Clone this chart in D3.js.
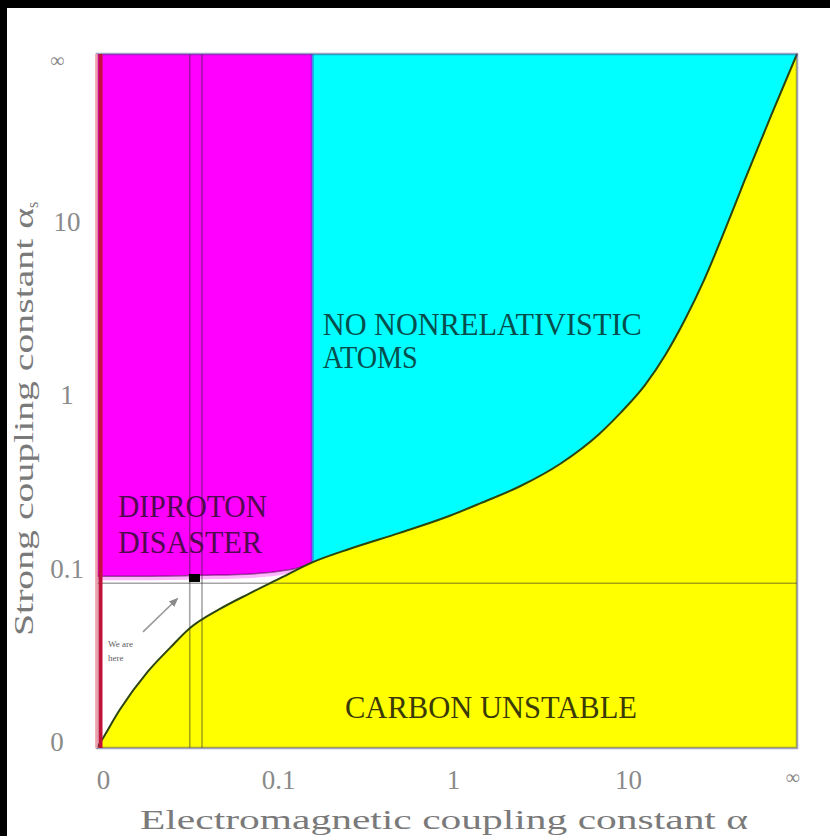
<!DOCTYPE html>
<html>
<head>
<meta charset="utf-8">
<script src="https://cdn.jsdelivr.net/npm/d3@7"></script>
<style>
  html, body { margin: 0; padding: 0; background: #fff; }
  svg { display: block; }
</style>
</head>
<body>
<svg id="chart" width="830" height="836"></svg>
<script>
// Both axes are compactified: tick k sits at position k (0, 0.1, 1, 10, ∞).
const xTickLabels = ["0", "0.1", "1", "10", "∞"];
const yTickLabels = ["0", "0.1", "1", "10", "∞"];

// Carbon-stability boundary (strong coupling vs electromagnetic coupling).
const carbonX = [0, 0.03, 0.13, 0.29, 0.42, 0.53, 0.70, 0.87, 1.05, 1.23, 1.45, 1.73,
                 2.02, 2.19, 2.42, 2.65, 2.87, 2.99, 3.13, 3.25, 3.36, 3.47, 3.59, 3.70, 3.85, 4];
const carbonY = [0, 0.05, 0.22, 0.44, 0.58, 0.69, 0.80, 0.89, 0.98, 1.07, 1.15, 1.24,
                 1.34, 1.41, 1.51, 1.64, 1.81, 1.93, 2.09, 2.27, 2.47, 2.70, 2.99, 3.27, 3.64, 4];

// Lower edge of the diproton-disaster region.
const diprotonX = [0, 0.30, 0.60, 0.90, 1.05, 1.17, 1.23];
const diprotonY = [0.99, 0.99, 0.995, 1.005, 1.02, 1.045, 1.07];

// Left edge of the "no nonrelativistic atoms" region.
const atomsEdgeX = [1.23];

// Our universe: guide lines and marker.
const ourAlphaBand = [0.53, 0.60];
const ourAlphaS = [0.95];
const hereX = [0.557];
const hereY = [0.98];

const svg = d3.select("#chart");
const x = d3.scaleLinear().domain([0, 4]).range([97, 797]);
const y = d3.scaleLinear().domain([0, 4]).range([748, 54]);

const carbon = carbonX.map((v, i) => [v, carbonY[i]]);
const diproton = diprotonX.map((v, i) => [v, diprotonY[i]]);

// Frame strips along the top and left edges.
svg.append("rect").attr("x", 0).attr("y", 0).attr("width", 830).attr("height", 8).attr("fill", "#000");
svg.append("rect").attr("x", 0).attr("y", 0).attr("width", 7).attr("height", 836).attr("fill", "#000");

const plot = svg.append("g");

// Diproton disaster (magenta).
plot.append("path")
  .datum(diproton)
  .attr("fill", "#ff00ff")
  .attr("d", d3.area().x(d => x(d[0])).y0(y(4)).y1(d => y(d[1])).curve(d3.curveMonotoneX));
// soft pink fringe under the magenta edge
plot.append("path")
  .datum(diproton)
  .attr("fill", "none")
  .attr("stroke", "#ffb8ff")
  .attr("stroke-width", 4)
  .attr("transform", "translate(0,2)")
  .attr("d", d3.line().x(d => x(d[0])).y(d => y(d[1])).curve(d3.curveMonotoneX));

// No nonrelativistic atoms (cyan).
plot.append("rect")
  .attr("x", x(atomsEdgeX[0])).attr("y", y(4))
  .attr("width", x(4) - x(atomsEdgeX[0])).attr("height", y(0) - y(4))
  .attr("fill", "#00ffff");

// Carbon unstable (yellow).
plot.append("path")
  .datum(carbon)
  .attr("fill", "#ffff00")
  .attr("d", d3.area().x(d => x(d[0])).y0(y(0)).y1(d => y(d[1])).curve(d3.curveMonotoneX));

// Boundary between magenta and cyan.
plot.append("line")
  .attr("x1", x(atomsEdgeX[0])).attr("x2", x(atomsEdgeX[0]))
  .attr("y1", y(4)).attr("y2", y(carbonY[carbonX.indexOf(atomsEdgeX[0])]))
  .attr("stroke", "rgba(70,60,210,0.55)").attr("stroke-width", 3);

// Guide lines through our universe.
ourAlphaBand.forEach(v => {
  plot.append("line")
    .attr("x1", x(v)).attr("x2", x(v)).attr("y1", y(4)).attr("y2", y(0))
    .attr("stroke", "rgba(40,40,40,0.42)").attr("stroke-width", 1.6);
});
plot.append("line")
  .attr("x1", x(0)).attr("x2", x(4)).attr("y1", y(ourAlphaS[0])).attr("y2", y(ourAlphaS[0]))
  .attr("stroke", "rgba(40,40,40,0.42)").attr("stroke-width", 1.6);

// Diproton edge line.
plot.append("path")
  .datum(diproton)
  .attr("fill", "none")
  .attr("stroke", "rgba(90,0,90,0.6)")
  .attr("stroke-width", 1.5)
  .attr("d", d3.line().x(d => x(d[0])).y(d => y(d[1])).curve(d3.curveMonotoneX));

// Carbon boundary curve.
plot.append("path")
  .datum(carbon)
  .attr("fill", "none")
  .attr("stroke", "#2c4410")
  .attr("stroke-width", 2)
  .attr("d", d3.line().x(d => x(d[0])).y(d => y(d[1])).curve(d3.curveMonotoneX));

// Plot frame.
plot.append("rect")
  .attr("x", x(0)).attr("y", y(4))
  .attr("width", x(4) - x(0)).attr("height", y(0) - y(4))
  .attr("fill", "none")
  .attr("stroke", "rgba(70,70,140,0.5)").attr("stroke-width", 2.5);

// Zero electromagnetic coupling (red edge).
plot.append("line")
  .attr("x1", x(0) - 0.5).attr("x2", x(0) - 0.5).attr("y1", y(4)).attr("y2", y(0))
  .attr("stroke", "#f4a0a8").attr("stroke-width", 2.5);
plot.append("line")
  .attr("x1", x(0) + 3.5).attr("x2", x(0) + 3.5).attr("y1", y(4)).attr("y2", y(0))
  .attr("stroke", "#c01238").attr("stroke-width", 4);

// "We are here" marker.
plot.append("rect")
  .attr("x", x(hereX[0]) - 5.5).attr("y", y(hereY[0]) - 4)
  .attr("width", 11).attr("height", 8)
  .attr("fill", "#000");

const defs = svg.append("defs");
defs.append("marker")
  .attr("id", "arrow").attr("viewBox", "0 0 10 10").attr("refX", 8).attr("refY", 5)
  .attr("markerWidth", 6).attr("markerHeight", 6).attr("orient", "auto")
  .append("path").attr("d", "M0,1 L10,5 L0,9 z").attr("fill", "#8a8a8a");
plot.append("line")
  .attr("x1", x(0.263)).attr("y1", y(0.669))
  .attr("x2", x(0.457)).attr("y2", y(0.859))
  .attr("stroke", "#9a9a9a").attr("stroke-width", 1.6)
  .attr("marker-end", "url(#arrow)");
const here = plot.append("text")
  .attr("font-family", "Liberation Serif, serif").attr("font-size", 9).attr("fill", "#606060");
here.append("tspan").attr("x", x(0.063)).attr("y", y(0.583)).text("We are");
here.append("tspan").attr("x", x(0.063)).attr("y", y(0.502)).text("here");

// Region labels.
function regionLabel(str, ux, uy, len, fill) {
  plot.append("text")
    .attr("x", x(ux)).attr("y", y(uy))
    .attr("font-family", "Liberation Serif, serif")
    .attr("font-size", 32)
    .attr("fill", fill)
    .attr("textLength", len)
    .attr("lengthAdjust", "spacingAndGlyphs")
    .text(str);
}
regionLabel("DIPROTON", 0.12, 1.33, 149, "#500a50");
regionLabel("DISASTER", 0.12, 1.125, 144, "#500a50");
regionLabel("NO NONRELATIVISTIC", 1.29, 2.38, 319, "#064e4e");
regionLabel("ATOMS", 1.29, 2.19, 95, "#064e4e");
regionLabel("CARBON UNSTABLE", 1.417, 0.173, 292, "#3a3a06");

// Axes.
const tickFont = g => g.selectAll("text")
  .attr("font-family", "Liberation Serif, serif")
  .attr("font-size", 27)
  .attr("fill", "#8a8a8a");

const xAxis = svg.append("g")
  .attr("transform", `translate(6,${y(0) + 2})`)
  .call(d3.axisBottom(x).tickValues(d3.range(xTickLabels.length))
    .tickFormat(i => xTickLabels[i]).tickSize(0).tickPadding(20))
  .call(g => g.select(".domain").remove())
  .call(tickFont);
xAxis.selectAll("text").filter(i => i === 4).attr("dx", -11).attr("font-size", 20);

const yAxis = svg.append("g")
  .attr("transform", `translate(${x(0)},-6)`)
  .call(d3.axisLeft(y).tickValues(d3.range(yTickLabels.length))
    .tickFormat(i => yTickLabels[i]).tickSize(0).tickPadding(14))
  .call(g => g.select(".domain").remove())
  .call(tickFont);
yAxis.selectAll("text").attr("text-anchor", "middle").attr("x", -30);
yAxis.selectAll("text").filter(i => i === 0).attr("x", -40);
yAxis.selectAll("text").filter(i => i === 4).attr("x", -40).attr("dy", "0.9em").attr("font-size", 20);

// Axis titles.
svg.append("text")
  .attr("x", (x(0) + x(4)) / 2 - 3).attr("y", 829)
  .attr("text-anchor", "middle")
  .attr("font-family", "Liberation Serif, serif")
  .attr("font-size", 28)
  .attr("fill", "#7a7a7a")
  .attr("textLength", 608)
  .attr("lengthAdjust", "spacingAndGlyphs")
  .text("Electromagnetic coupling constant α");

const yTitle = svg.append("text")
  .attr("transform", "translate(33,636) rotate(-90)")
  .attr("font-family", "Liberation Serif, serif")
  .attr("font-size", 28)
  .attr("fill", "#7a7a7a");
yTitle.append("tspan").attr("textLength", 428).attr("lengthAdjust", "spacingAndGlyphs")
  .text("Strong coupling constant α");
yTitle.append("tspan").attr("font-size", 16).attr("dy", 5).text("s");
</script>
</body>
</html>
